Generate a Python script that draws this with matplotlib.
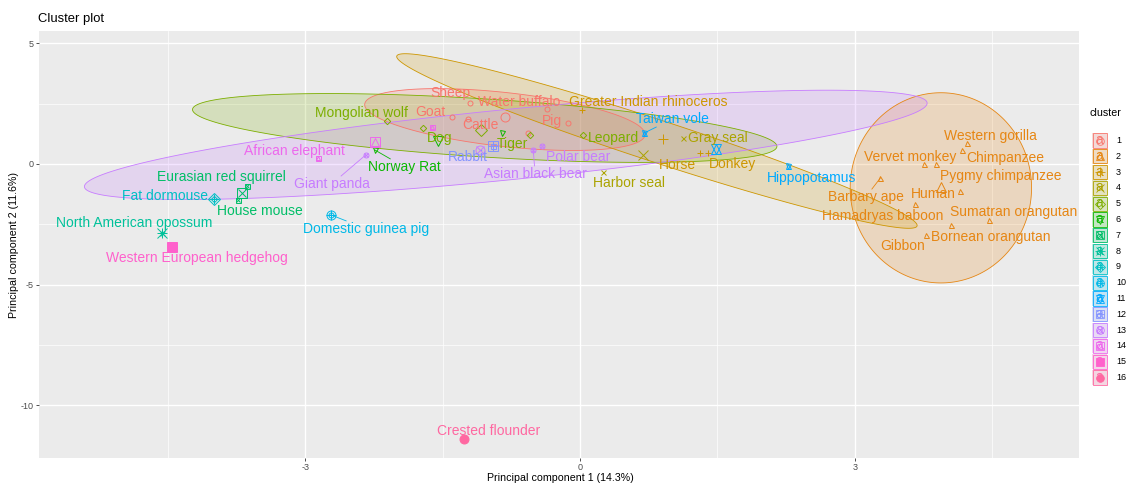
import numpy as np
import matplotlib.pyplot as plt
from matplotlib.patches import Polygon, Rectangle

plt.rcParams['font.family'] = ['Liberation Sans', 'DejaVu Sans']
plt.rcParams['axes.unicode_minus'] = False

# ggplot hue palette for 16 groups
palette = ["#F8766D", "#E68613", "#CD9600", "#ABA300", "#7CAE00", "#0CB702",
           "#00BE67", "#00C19A", "#00BFC4", "#00B8E7", "#00A9FF", "#8494FF",
           "#C77CFF", "#ED68ED", "#FF61CC", "#FF68A1"]

# species scores on the first two principal components ("" = label dropped)
names = ["Sheep", "Goat", "Cattle", "Water buffalo", "Pig", "",
         "Western gorilla", "Chimpanzee", "Vervet monkey", "Pygmy chimpanzee",
         "Human", "Barbary ape", "Hamadryas baboon", "Sumatran orangutan",
         "Bornean orangutan", "Gibbon",
         "Greater Indian rhinoceros", "Horse", "Donkey",
         "Gray seal", "Harbor seal",
         "Mongolian wolf", "Dog", "Tiger", "Leopard",
         "Norway Rat", "",
         "Eurasian red squirrel", "House mouse",
         "North American opossum",
         "Fat dormouse",
         "Domestic guinea pig",
         "Taiwan vole", "Hippopotamus",
         "Rabbit",
         "Giant panda", "Polar bear", "Asian black bear",
         "African elephant", "",
         "Western European hedgehog",
         "Crested flounder"]
cluster = [1, 1, 1, 1, 1, 1,
           2, 2, 2, 2, 2, 2, 2, 2, 2, 2,
           3, 3, 3,
           4, 4,
           5, 5, 5, 5,
           6, 6,
           7, 7,
           8,
           9,
           10,
           11, 11,
           12,
           13, 13, 13,
           14, 14,
           15,
           16]
pc1 = [-1.20, -1.40, -1.22, -0.36, -0.13, -0.57,
       4.22, 4.17, 3.76, 3.89, 4.15, 3.28, 3.66, 4.47, 4.05, 3.78,
       0.02, 1.31, 1.40,
       1.12, 0.25,
       -2.11, -1.71, -0.55, 0.03,
       -2.24, -0.85,
       -3.64, -3.73,
       -4.56,
       -4.00,
       -2.72,
       0.70, 2.27,
       -0.95,
       -2.34, -0.41, -0.51,
       -2.86, -1.62,
       -4.45,
       -1.27]
pc2 = [2.53, 1.95, 1.86, 2.28, 1.70, 1.28,
       0.87, 0.58, 0.00, -0.02, -1.12, -0.58, -1.66, -2.32, -2.53, -2.94,
       2.24, 0.46, 0.46,
       1.08, -0.33,
       1.78, 1.49, 1.20, 1.20,
       0.58, 1.28,
       -0.91, -1.49,
       -2.86,
       -1.45,
       -2.11,
       1.28, -0.08,
       0.75,
       0.37, 0.75, 0.58,
       0.25, 1.53,
       -3.44,
       -11.39]

# normal-theory ellipses: cluster, centre, two conjugate semi-axes
ell_cluster = [1, 2, 3, 5, 13]
ell_center = [(-0.82, 1.84), (3.94, -0.99), (0.84, 0.95), (-1.04, 1.49), (-0.81, 0.79)]
ell_u = [(1.53, -0.64), (0.0, -3.94), (2.84, -3.52), (3.19, -0.77), (4.60, 1.74)]
ell_v = [(-0.033, -1.11), (0.99, 0.0), (-0.071, -0.83), (-0.020, -1.20), (0.038, -1.45)]

# repelled label placement
label_xy = {
    "Sheep": (-1.41, 2.94), "Water buffalo": (-0.66, 2.57),
    "Greater Indian rhinoceros": (0.74, 2.57), "Goat": (-1.63, 2.15),
    "Cattle": (-1.09, 1.61), "Pig": (-0.31, 1.78), "Mongolian wolf": (-2.38, 2.11),
    "Dog": (-1.53, 1.08), "Tiger": (-0.74, 0.83), "Leopard": (0.36, 1.08),
    "Taiwan vole": (1.01, 1.86), "Gray seal": (1.51, 1.08), "Horse": (1.06, -0.04),
    "Donkey": (1.67, 0.00), "Harbor seal": (0.54, -0.79), "Rabbit": (-1.22, 0.29),
    "Polar bear": (-0.02, 0.29), "Asian black bear": (-0.49, -0.41),
    "Norway Rat": (-1.92, -0.12), "Giant panda": (-2.71, -0.83),
    "African elephant": (-3.12, 0.54), "Eurasian red squirrel": (-3.91, -0.54),
    "Fat dormouse": (-4.53, -1.33), "House mouse": (-3.49, -1.95),
    "North American opossum": (-4.87, -2.45), "Western European hedgehog": (-4.18, -3.90),
    "Domestic guinea pig": (-2.33, -2.69), "Hippopotamus": (2.53, -0.58),
    "Western gorilla": (4.48, 1.16), "Chimpanzee": (4.64, 0.25),
    "Vervet monkey": (3.60, 0.29), "Pygmy chimpanzee": (4.59, -0.50),
    "Human": (3.86, -1.24), "Barbary ape": (3.12, -1.37),
    "Hamadryas baboon": (3.31, -2.15), "Sumatran orangutan": (4.73, -1.99),
    "Bornean orangutan": (4.48, -3.03), "Gibbon": (3.52, -3.40),
    "Crested flounder": (-1.00, -11.06),
}
with_segment = ["Giant panda", "Norway Rat", "Taiwan vole", "Domestic guinea pig",
                "Barbary ape", "Asian black bear"]

# R point shapes 1..16 built from matplotlib markers: (marker, filled, scale)
shape_parts = {
    1: [('o', False, 1.0)], 2: [('^', False, 1.0)], 3: [('+', True, 1.2)],
    4: [('x', True, 1.0)], 5: [('D', False, 0.9)], 6: [('v', False, 1.0)],
    7: [('s', False, 1.0), ('x', True, 0.9)], 8: [('+', True, 1.2), ('x', True, 1.0)],
    9: [('D', False, 0.9), ('+', True, 1.1)], 10: [('o', False, 1.0), ('+', True, 1.0)],
    11: [('^', False, 1.0), ('v', False, 1.0)], 12: [('s', False, 1.0), ('+', True, 1.0)],
    13: [('o', False, 1.0), ('x', True, 0.8)], 14: [('s', False, 1.0), ('^', False, 0.8)],
    15: [('s', 'fill', 1.0)], 16: [('o', 'fill', 1.0)],
}


def draw_shape(axis, x, y, shape, color, ms, z=3, lw=0.7):
    for mk, filled, sc in shape_parts[shape]:
        if filled == 'fill':
            axis.plot(x, y, mk, ms=ms * sc, mfc=color, mec=color, mew=lw, zorder=z)
        elif filled:
            axis.plot(x, y, mk, ms=ms * sc, color=color, mew=lw, zorder=z)
        else:
            axis.plot(x, y, mk, ms=ms * sc, mfc='none', mec=color, mew=lw, zorder=z)


W, H = 1126, 484
fig = plt.figure(figsize=(W / 100, H / 100), dpi=100)
ax = fig.add_axes([39 / W, 1 - 457.7 / H, (1079 - 39) / W, (457.7 - 30.7) / H])
ax.set_xlim(-5.906, 5.448)
ax.set_ylim(-12.17, 5.52)
ax.set_facecolor('#EBEBEB')
for s in ax.spines.values():
    s.set_visible(False)
ax.set_xticks([-3, 0, 3])
ax.set_yticks([5, 0, -5, -10])
ax.set_xticks([-4.5, -1.5, 1.5, 4.5], minor=True)
ax.set_yticks([2.5, -2.5, -7.5], minor=True)
ax.grid(which='major', color='white', lw=1.0)
ax.grid(which='minor', color='white', lw=0.5)
ax.set_axisbelow(True)
ax.tick_params(which='major', length=2.5, width=0.6, color='#333333',
               labelsize=6.5, labelcolor='#4D4D4D', pad=1.5)
ax.tick_params(which='minor', length=0)

cl = np.array(cluster)
x = np.array(pc1)
y = np.array(pc2)

# ellipses
t = np.linspace(0, 2 * np.pi, 240)
for k, c, u, v in zip(ell_cluster, ell_center, ell_u, ell_v):
    col = palette[k - 1]
    ex = c[0] + u[0] * np.cos(t) + v[0] * np.sin(t)
    ey = c[1] + u[1] * np.cos(t) + v[1] * np.sin(t)
    ax.add_patch(Polygon(np.column_stack([ex, ey]), closed=True,
                         facecolor=col, alpha=0.2, edgecolor='none', zorder=1))
    ax.add_patch(Polygon(np.column_stack([ex, ey]), closed=True,
                         facecolor='none', edgecolor=col, lw=0.6, zorder=1.1))

# points and cluster centres
for i in range(len(names)):
    k = cluster[i]
    draw_shape(ax, x[i], y[i], k, palette[k - 1], 3.6)
for k in range(1, 17):
    m = cl == k
    draw_shape(ax, x[m].mean(), y[m].mean(), k, palette[k - 1], 6.5, z=3.5)

# labels
texts = {}
for i, n in enumerate(names):
    if not n:
        continue
    col = palette[cluster[i] - 1]
    lx, ly = label_xy[n]
    texts[n] = (ax.text(lx, ly, n, color=col, fontsize=10, ha='center',
                        va='center', zorder=5), i)

fig.canvas.draw()
rend = fig.canvas.get_renderer()
for n in with_segment:
    txt, i = texts[n]
    bb = txt.get_window_extent(rend).expanded(1.0, 1.0)
    p = ax.transData.transform((x[i], y[i]))
    c = np.array([(bb.x0 + bb.x1) / 2, (bb.y0 + bb.y1) / 2])
    d = c - p
    # walk from the point towards the label centre until the text box is hit
    s_hit = 1.0
    for s in np.linspace(0, 1, 400):
        q = p + s * d
        if bb.x0 - 1 <= q[0] <= bb.x1 + 1 and bb.y0 - 1 <= q[1] <= bb.y1 + 1:
            s_hit = s
            break
    q = ax.transData.inverted().transform(p + s_hit * d)
    ax.plot([x[i], q[0]], [y[i], q[1]], color=palette[cluster[i] - 1], lw=0.6, zorder=4)

# titles
fig.text(38 / W, 1 - 19 / H, "Cluster plot", fontsize=9.4, va='center', ha='left')
fig.text(560 / W, 1 - 478 / H, "Principal component 1 (14.3%)", fontsize=7.7,
         ha='center', va='center')
fig.text(14 / W, 1 - 245 / H, "Principal component 2 (11.6%)", fontsize=7.7,
         ha='center', va='center', rotation=90)

# legend
lax = fig.add_axes([1080 / W, 0, (W - 1080) / W, 1])
lax.set_xlim(1080, W)
lax.set_ylim(H, 0)
lax.axis('off')
lax.text(1089, 113, "cluster", fontsize=7.7, ha='left', va='center')
for k in range(1, 17):
    col = palette[k - 1]
    yc = 140.5 + (k - 1) * 15.8
    lax.add_patch(Rectangle((1092, yc - 7.6), 15, 15.2, facecolor='#F2F2F2',
                            edgecolor='none', zorder=1))
    lax.add_patch(Rectangle((1092, yc - 7.6), 15, 15.2, facecolor=col, alpha=0.2,
                            edgecolor='none', zorder=2))
    lax.add_patch(Rectangle((1092.5, yc - 7.1), 14, 14.2, facecolor='none',
                            edgecolor=col, lw=0.6, zorder=3))
    draw_shape(lax, 1099.5, yc, k, col, 5.5, z=4, lw=0.6)
    lax.text(1099.5, yc - 0.5, "a", color=col, fontsize=10, ha='center', va='center',
             zorder=5)
    lax.text(1116, yc, str(k), fontsize=6.5, ha='left', va='center', color='black')

fig.savefig("out.png", dpi=100)
